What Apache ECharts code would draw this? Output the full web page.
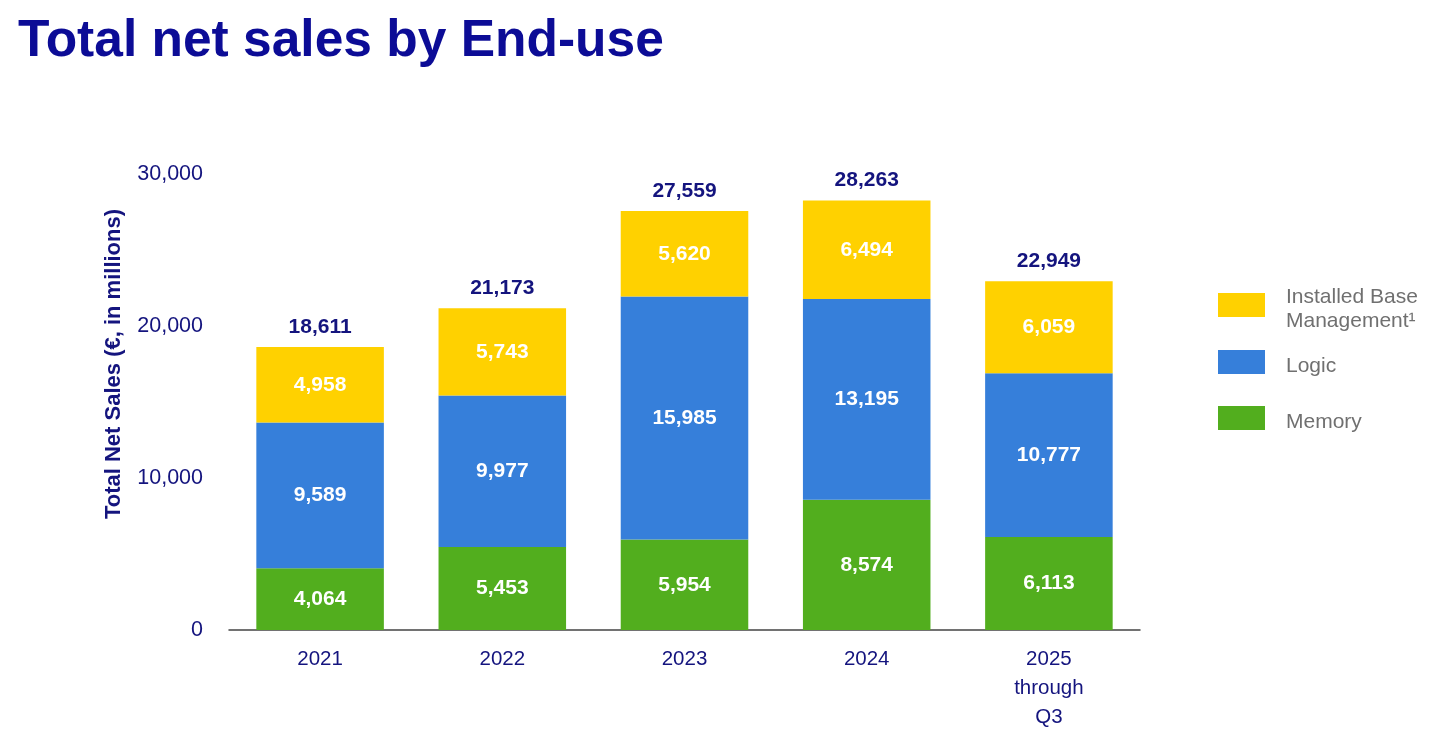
<!DOCTYPE html>
<html>
<head>
<meta charset="utf-8">
<script src="https://cdn.jsdelivr.net/npm/echarts@6/dist/echarts.min.js"></script>
<style>html,body{margin:0;padding:0;background:#fff;}#c{width:1456px;height:735px;}</style>
</head>
<body>
<div id="c"></div>
<script>
const categories = ['2021', '2022', '2023', '2024', '2025\nthrough\nQ3'];
const memory = [4064, 5453, 5954, 8574, 6113];
const logic = [9589, 9977, 15985, 13195, 10777];
const installedBase = [4958, 5743, 5620, 6494, 6059];
const totals = [18611, 21173, 27559, 28263, 22949];
const yTicks = [0, 10000, 20000, 30000];

const navy = '#14147e';
const FF = 'Liberation Sans, Arial, sans-serif';
const fmt = v => v.toLocaleString('en-US');
const segLabel = {
  show: true, position: 'inside', color: '#fff', fontWeight: 'bold',
  fontSize: 21, fontFamily: FF,
  formatter: p => fmt(p.value)
};
// rectangle 47x24 drawn in the top part of a 47x32 icon box, so the label sits slightly below the swatch centre
const legIcon = 'path://M0,0L47,0L47,24L0,24Z M0,32L0,32';
function leg(name, top) {
  return {
    data: [name], left: 1218, top: top, orient: 'vertical', itemWidth: 47, itemHeight: 32, padding: 0,
    icon: legIcon, selectedMode: false,
    textStyle: { color: '#707070', fontSize: 21, fontFamily: FF, lineHeight: 24, padding: [0, 0, 0, 16] },
    formatter: n => n === 'Installed Base Management¹' ? 'Installed Base\nManagement¹' : n
  };
}

const chart = echarts.init(document.getElementById('c'), null, { renderer: 'canvas' });
chart.setOption({
  animation: false,
  title: {
    text: 'Total net sales by End-use', left: 18, top: 16, padding: 0,
    textStyle: { color: '#0c0c96', fontSize: 51.5, fontWeight: 'bold', fontFamily: FF }
  },
  legend: [leg('Installed Base Management¹', 285), leg('Logic', 350), leg('Memory', 406)],
  grid: { left: 229, right: 316, top: 174, bottom: 105 },
  xAxis: {
    type: 'category', data: categories,
    axisLine: { lineStyle: { color: '#444', width: 1.5 } },
    axisTick: { show: false },
    axisLabel: { color: navy, fontSize: 20.5, lineHeight: 29, margin: 15, fontFamily: FF }
  },
  yAxis: {
    type: 'value', min: 0, max: 30000, interval: 10000,
    splitLine: { show: false }, axisLine: { show: false }, axisTick: { show: false },
    axisLabel: { color: navy, fontSize: 21.5, margin: 26, fontFamily: FF, formatter: v => fmt(v) },
    name: 'Total Net Sales (€, in millions)', nameLocation: 'middle', nameGap: 104,
    nameTextStyle: { color: navy, fontSize: 22, fontWeight: 'bold', fontFamily: FF, padding: [0, 0, 0, 76] }
  },
  series: [
    { name: 'Memory', type: 'bar', stack: 's', data: memory, barWidth: '70%', itemStyle: { color: '#52ae1e' }, label: segLabel },
    { name: 'Logic', type: 'bar', stack: 's', data: logic, itemStyle: { color: '#367fda' }, label: segLabel },
    { name: 'Installed Base Management¹', type: 'bar', stack: 's', data: installedBase, itemStyle: { color: '#ffd100' }, label: segLabel },
    { name: 'Total', type: 'line', data: totals, symbol: 'circle', symbolSize: 1, showSymbol: true,
      itemStyle: { color: 'rgba(0,0,0,0)' }, lineStyle: { opacity: 0 }, silent: true,
      label: { show: true, position: 'top', distance: 9, color: navy, fontWeight: 'bold', fontSize: 21,
        fontFamily: FF, formatter: p => fmt(p.value) } }
  ]
});
</script>
</body>
</html>
